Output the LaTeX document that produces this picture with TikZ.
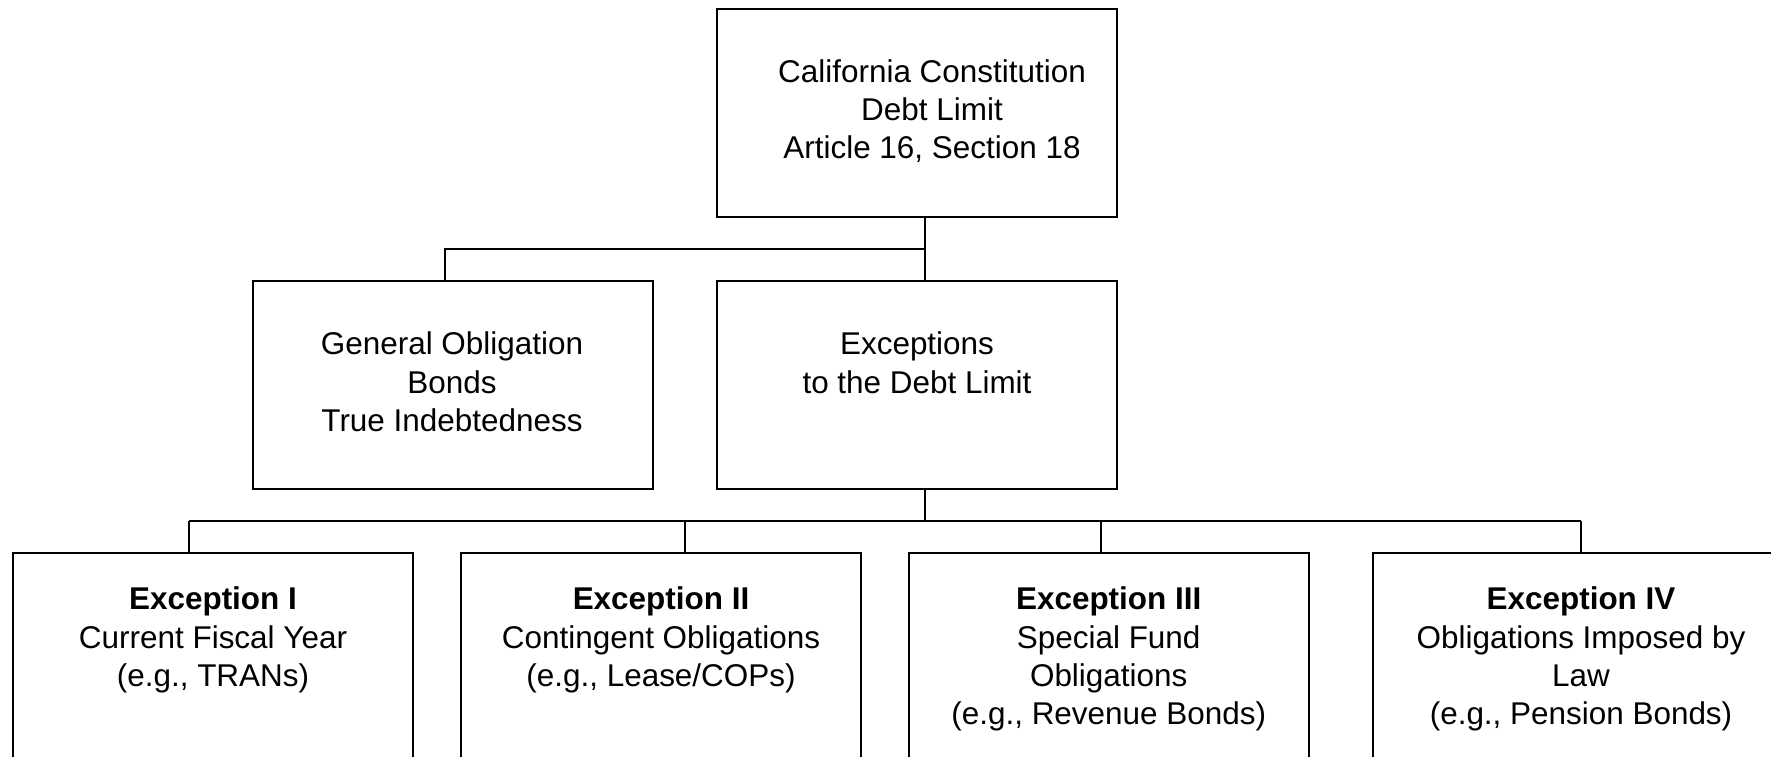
\documentclass[tikz,border=0pt]{standalone}
\usepackage{fontspec}
\setmainfont{Liberation Sans}
\begin{document}
\begin{tikzpicture}[x=0.02cm,y=-0.02cm,
    box/.style={draw,line width=0.04cm,minimum width=8cm,minimum height=4.16cm,inner sep=0pt},
    txt/.style={align=center,anchor=north,inner sep=0pt,font=\fontsize{17.9}{21.8}\selectfont},
    link/.style={line width=0.033cm}]
    \useasboundingbox (0,0) rectangle (1771,757);
    \clip (0,0) rectangle (1771,757);

    \node[box] (const) at (917,113) {};
    \node[box] (gob) at (452.7,385) {};
    \node[box] (exc) at (917,385) {};
    \node[box] (ex1) at (213,656.5) {};
    \node[box] (ex2) at (661,656.5) {};
    \node[box] (ex3) at (1108.7,656.5) {};
    \node[box] (ex4) at (1573,656.5) {};

    \node[txt] (constT) at (932,59) {California Constitution\\ Debt Limit\\ Article 16, Section 18};
    \node[txt] (gobT) at (452,331.6) {General Obligation\\ Bonds\\ True Indebtedness};
    \node[txt] (excT) at (917,331.6) {Exceptions\\ to the Debt Limit};
    \node[txt] (ex1T) at (213,586.6) {\textbf{Exception I}\\ Current Fiscal Year\\ (e.g., TRANs)};
    \node[txt] (ex2T) at (661,586.6) {\textbf{Exception II}\\ Contingent Obligations\\ (e.g., Lease/COPs)};
    \node[txt] (ex3T) at (1108.7,586.6) {\textbf{Exception III}\\ Special Fund\\ Obligations\\ (e.g., Revenue Bonds)};
    \node[txt] (ex4T) at (1581,586.6) {\textbf{Exception IV}\\ Obligations Imposed by\\ Law\\ (e.g., Pension Bonds)};

    % upper branch
    \coordinate (split) at (925,249);
    \coordinate (gotop) at (445,249);
    \draw[link] (const.south -| split) -- (exc.north -| split);
    \draw[link] (split) -- (gotop) -- (gotop |- gob.north);

    % lower branch
    \coordinate (low) at (925,521);
    \coordinate (s1) at (189,521);
    \coordinate (s2) at (685,521);
    \coordinate (s3) at (1101,521);
    \coordinate (s4) at (1581,521);
    \draw[link] (exc.south -| low) -- (low);
    \draw[link] (s1) -- (s4);
    \draw[link] (s1) -- (s1 |- ex1.north);
    \draw[link] (s2) -- (s2 |- ex2.north);
    \draw[link] (s3) -- (s3 |- ex3.north);
    \draw[link] (s4) -- (s4 |- ex4.north);
\end{tikzpicture}
\end{document}
